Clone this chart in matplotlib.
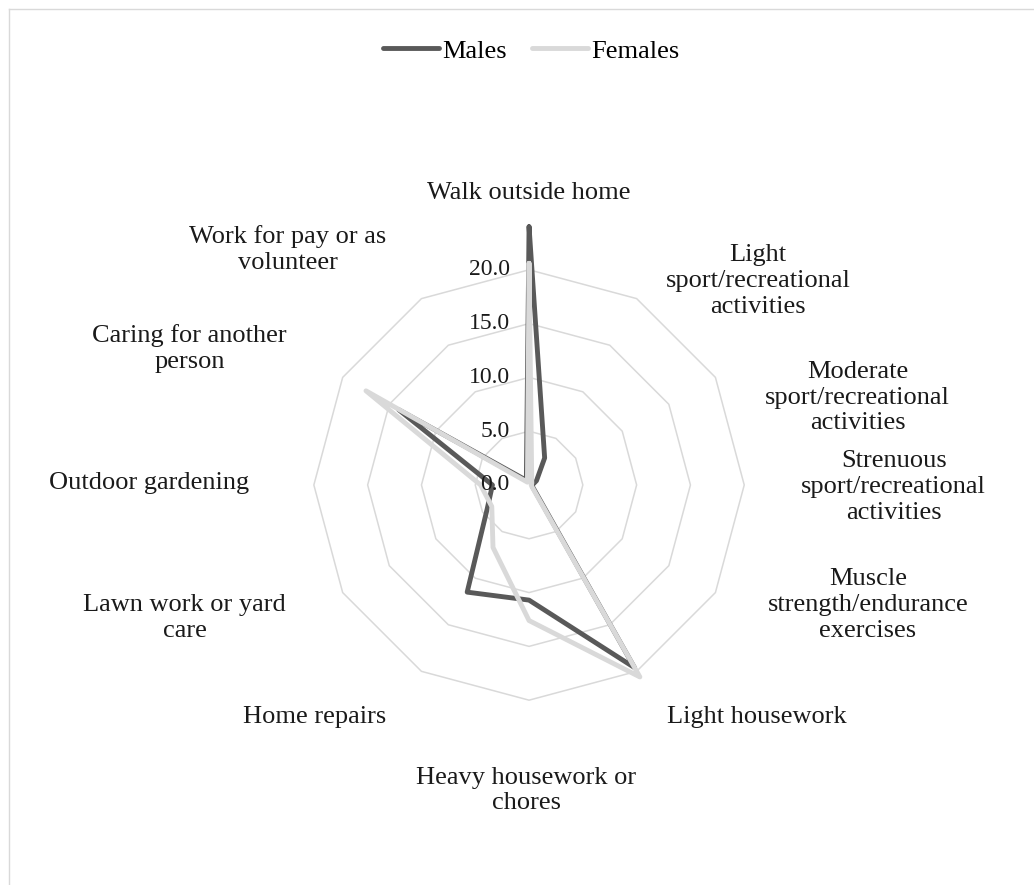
import matplotlib
matplotlib.use("Agg")
import matplotlib.pyplot as plt
import numpy as np
from matplotlib.lines import Line2D

# categories, clockwise from the top
categories = ["Walk outside home",
              "Light\nsport/recreational\nactivities",
              "Moderate\nsport/recreational\nactivities",
              "Strenuous\nsport/recreational\nactivities",
              "Muscle\nstrength/endurance\nexercises",
              "Light housework",
              "Heavy housework or\nchores",
              "Home repairs",
              "Lawn work or yard\ncare",
              "Outdoor gardening",
              "Caring for another\nperson",
              "Work for pay or as\nvolunteer"]
males = [24.0, 2.9, 0.8, 0.3, 0.4, 19.6, 10.7, 11.5, 4.5, 3.4, 14.0, 0.5]
females = [20.6, 0.5, 0.3, 0.2, 0.3, 20.6, 12.6, 6.7, 4.0, 4.5, 17.5, 0.3]
ring_values = [5, 10, 15, 20]
tick_values = [0, 5, 10, 15, 20]

# where each category label sits (angle clockwise from top in degrees, radius)
label_pos = [(0, 27.1), (48.3, 28.5), (75.1, 31.6), (90.3, 33.9), (109.5, 33.4),
             (135.6, 30.2), (180.5, 28.4), (222.7, 29.4), (248.9, 34.3),
             (270.3, 35.3), (291.9, 34.0), (314.3, 31.3)]

dark = "#595959"
light = "#d9d9d9"
plt.rcParams["font.family"] = ["Liberation Serif", "DejaVu Serif"]

fig = plt.figure(figsize=(10.34, 8.85), dpi=100)
# chart area border (top and left visible)
fig.add_artist(Line2D([9/1034, 1.0], [1-9/885, 1-9/885], color=light, lw=1.0))
fig.add_artist(Line2D([9/1034, 9/1034], [0, 1-9/885], color=light, lw=1.0))

ax = fig.add_axes([0.2515, 0.148, 0.5203, 0.608], projection="polar")
ax.set_theta_zero_location("N")
ax.set_theta_direction(-1)
ax.set_ylim(0, 25)
ax.set_axis_off()

n = len(categories)
angles = np.arange(n) * 2 * np.pi / n
closed = np.append(angles, angles[0])

for r in ring_values:
    ax.plot(closed, [r] * (n + 1), color=light, lw=1.1, zorder=1)

m_line, = ax.plot(closed, males + males[:1], color=dark, lw=3.5,
                  solid_joinstyle="round", solid_capstyle="round", zorder=3, label="Males")
f_line, = ax.plot(closed, females + females[:1], color=light, lw=3.5,
                  solid_joinstyle="round", solid_capstyle="round", zorder=4, label="Females")

for v in tick_values:
    ax.annotate(f"{v:.1f}", xy=(0, v), xytext=(-14, 0), textcoords="offset points",
                ha="right", va="center", fontsize=17, color="#1a1a1a", zorder=5)

for lab, (deg, rr) in zip(categories, label_pos):
    ax.text(np.radians(deg), rr, lab, ha="center", va="center", fontsize=19,
            color="#1a1a1a", linespacing=1.22)

fig.legend(handles=[m_line, f_line], loc="center", bbox_to_anchor=(531/1034, 1-51/885),
           ncol=2, frameon=False, fontsize=19, handlelength=2.15, handletextpad=0.1,
           columnspacing=0.95)

fig.savefig("out.png", dpi=100)
